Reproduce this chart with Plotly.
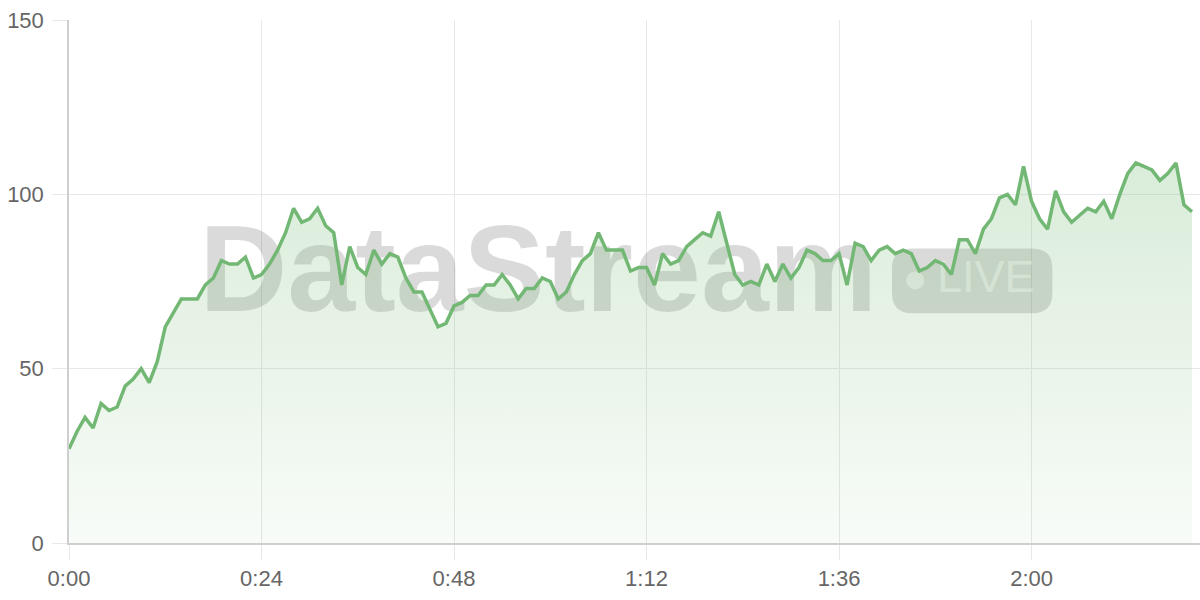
import plotly.graph_objects as go

# minutes since start
minutes = list(range(141))
values = [
    27, 32, 36, 33, 40, 38, 39, 45, 47, 50,
    46, 52, 62, 66, 70, 70, 70, 74, 76, 81,
    80, 80, 82, 76, 77, 80, 84, 89, 96, 92,
    93, 96, 91, 89, 74, 85, 79, 77, 84, 80,
    83, 82, 76, 72, 72, 67, 62, 63, 68, 69,
    71, 71, 74, 74, 77, 74, 70, 73, 73, 76,
    75, 70, 72, 77, 81, 83, 89, 84, 84, 84,
    78, 79, 79, 74, 83, 80, 81, 85, 87, 89,
    88, 95, 86, 77, 74, 75, 74, 80, 75, 80,
    76, 79, 84, 83, 81, 81, 83, 74, 86, 85,
    81, 84, 85, 83, 84, 83, 78, 79, 81, 80,
    77, 87, 87, 83, 90, 93, 99, 100, 97, 108,
    98, 93, 90, 101, 95, 92, 94, 96, 95, 98,
    93, 100, 106, 109, 108, 107, 104, 106, 109, 97,
    95,
]
x_tickvals = [0, 24, 48, 72, 96, 120]
x_ticktext = ["0:00", "0:24", "0:48", "1:12", "1:36", "2:00"]
y_tickvals = [0, 50, 100, 150]

LINE = "rgb(114,184,116)"
WM = "rgba(0,0,0,0.145)"
WM_LIGHT = "rgba(255,255,255,0.55)"
FONT = "Liberation Sans"

fig = go.Figure()

# watermark text (drawn under the data)
fig.add_trace(go.Scatter(
    x=[58.5], y=[75.4], mode="text", text=["DataStream"],
    textposition="middle center",
    textfont=dict(family=FONT, size=122, color=WM, weight="bold"),
    hoverinfo="skip", showlegend=False, cliponaxis=False,
))
# LIVE badge dot + text
fig.add_trace(go.Scatter(
    x=[105.5], y=[75.3], mode="markers",
    marker=dict(size=18, color=WM_LIGHT, line=dict(width=0)),
    hoverinfo="skip", showlegend=False,
))
fig.add_trace(go.Scatter(
    x=[114.3], y=[75.3], mode="text", text=["LIVE"],
    textposition="middle center",
    textfont=dict(family=FONT, size=45, color=WM_LIGHT),
    hoverinfo="skip", showlegend=False,
))

# data: area + line
fig.add_trace(go.Scatter(
    x=minutes, y=values, mode="lines",
    line=dict(color=LINE, width=3.5),
    fill="tozeroy",
    fillgradient=dict(
        type="vertical",
        colorscale=[[0, "rgba(115,185,115,0.05)"], [1, "rgba(115,185,115,0.27)"]],
        start=0, stop=110,
    ),
    hoverinfo="skip", showlegend=False,
))

# badge rounded rectangle
x0, x1, y0, y1 = 102.6, 122.6, 65.9, 84.5
rx, ry = 2.5, 5.8
path = (f"M {x0+rx},{y0} L {x1-rx},{y0} Q {x1},{y0} {x1},{y0+ry} "
        f"L {x1},{y1-ry} Q {x1},{y1} {x1-rx},{y1} L {x0+rx},{y1} "
        f"Q {x0},{y1} {x0},{y1-ry} L {x0},{y0+ry} Q {x0},{y0} {x0+rx},{y0} Z")
fig.add_shape(type="path", path=path, xref="x", yref="y",
              fillcolor=WM, line=dict(width=0), layer="between")

fig.update_layout(
    width=1200, height=600,
    margin=dict(l=69, r=0, t=20, b=57, autoexpand=False),
    paper_bgcolor="white", plot_bgcolor="white",
    font=dict(family=FONT, size=22, color="#666666"),
)
fig.update_xaxes(
    range=[0, 141], tickvals=x_tickvals, ticktext=x_ticktext,
    showgrid=True, gridcolor="#e8e8e8", gridwidth=1,
    showline=True, linecolor="#cfcfcf", linewidth=1.5,
    ticks="outside", ticklen=15, tickcolor="#e8e8e8",
    zeroline=False, automargin=False,
    tickfont=dict(family=FONT, size=22, color="#666666"),
)
fig.update_yaxes(
    range=[0, 150], tickvals=y_tickvals,
    showgrid=True, gridcolor="#e8e8e8", gridwidth=1,
    showline=True, linecolor="#cfcfcf", linewidth=1.5,
    ticks="outside", ticklen=15, tickcolor="#e8e8e8",
    zeroline=False, ticklabelstandoff=4, automargin=False,
    tickfont=dict(family=FONT, size=22, color="#666666"),
)

fig.write_html(
    "out.html",
    config={"displayModeBar": False},
    post_script="document.body.style.margin='0px';document.body.style.padding='0px';",
)
